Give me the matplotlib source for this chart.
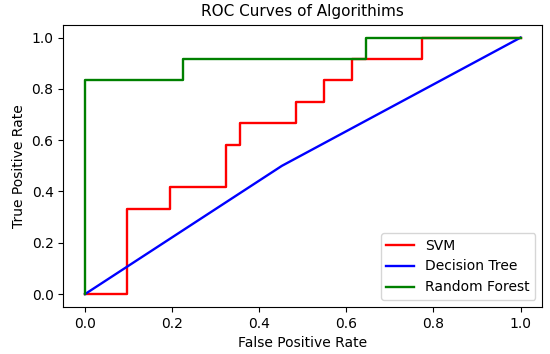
import numpy as np
import matplotlib
matplotlib.use("Agg")
import matplotlib.pyplot as plt

# ROC points
svm_fpr = [0.0, 0.097, 0.097, 0.194, 0.194, 0.323, 0.323, 0.355, 0.355, 0.484, 0.484,
           0.548, 0.548, 0.613, 0.613, 0.774, 0.774, 1.0]
svm_tpr = [0.0, 0.0, 0.333, 0.333, 0.417, 0.417, 0.583, 0.583, 0.667, 0.667, 0.75,
           0.75, 0.833, 0.833, 0.917, 0.917, 1.0, 1.0]

dt_fpr = [0.0, 0.452, 1.0]
dt_tpr = [0.0, 0.5, 1.0]

rf_fpr = [0.0, 0.0, 0.226, 0.226, 0.645, 0.645, 1.0]
rf_tpr = [0.0, 0.833, 0.833, 0.917, 0.917, 1.0, 1.0]


def main():
    plt.rcParams["font.size"] = 10
    fig = plt.figure(figsize=(5.5, 3.54), dpi=100)
    ax = fig.add_axes([0.115, 0.133, 0.871, 0.797])
    ax.plot(svm_fpr, svm_tpr, color="red", lw=1.7, label="SVM")
    ax.plot(dt_fpr, dt_tpr, color="blue", lw=1.7, label="Decision Tree")
    ax.plot(rf_fpr, rf_tpr, color="green", lw=1.7, label="Random Forest")
    ax.set_title("ROC Curves of Algorithims", fontsize=11)
    ax.set_xlabel("False Positive Rate")
    ax.set_ylabel("True Positive Rate")
    ax.legend(loc="lower right")
    fig.savefig("out.png", dpi=100)
    plt.close()


if __name__ == "__main__":
    main()
